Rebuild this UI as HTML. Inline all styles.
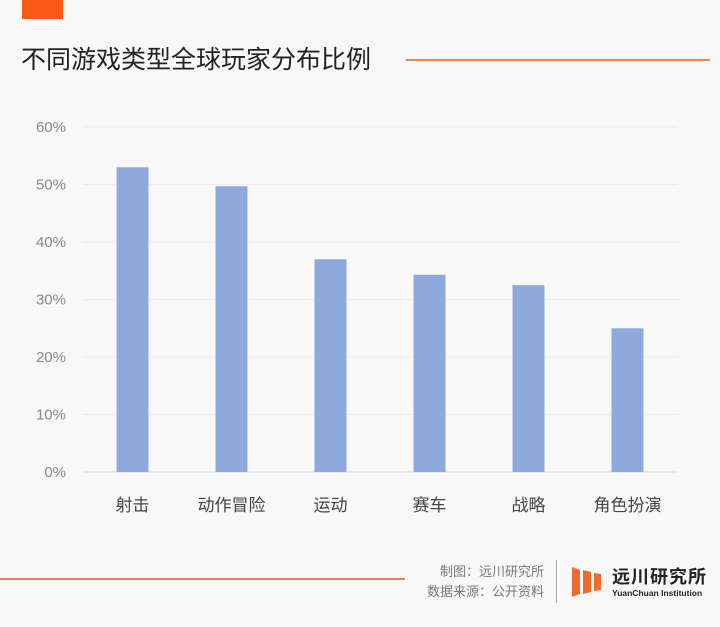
<!DOCTYPE html>
<html><head><meta charset="utf-8"><style>
body{margin:0;width:720px;height:627px;background:#f8f8f8;font-family:"Liberation Sans","Noto Sans CJK SC",sans-serif;overflow:hidden;position:relative}
.a{position:absolute}
</style></head><body>
<div class="a" style="left:22px;top:0;width:41px;height:19px;background:#fb5a14"></div>
<div class="a" style="left:21px;top:44px;font-size:25px;color:#222;line-height:32px">不同游戏类型全球玩家分布比例</div>
<div class="a" style="left:406px;top:59px;width:304px;height:2px;background:#f08050"></div>
<svg class="a" style="left:0;top:0" width="720" height="627">
<g id="g"></g>
</svg>
<div class="a" style="left:0;top:578px;width:405px;height:2px;background:#f08050"></div>
<div class="a" style="left:420px;top:562px;width:124px;text-align:right;font-size:13px;color:#777;line-height:20px">制图：远川研究所<br>数据来源：公开资料</div>
<div class="a" style="left:556px;top:560px;width:1px;height:43px;background:#aaa"></div>
<svg class="a" style="left:570px;top:565px" width="36" height="34">
<polygon points="2,2 10,5 10,29 2,32" fill="#f06a30"/>
<polygon points="13,5 21,7 21,27 13,29" fill="#f06a30"/>
<polygon points="24,8 31,9 31,25 24,26" fill="#f06a30"/>
</svg>
<div class="a" style="left:612px;top:566px;font-size:18px;font-weight:bold;color:#222;letter-spacing:1px;line-height:22px">远川研究所</div>
<div class="a" style="left:612px;top:588px;font-size:8.5px;font-weight:bold;color:#222;line-height:10px">YuanChuan Institution</div>
<script>
const categories=["射击","动作冒险","运动","赛车","战略","角色扮演"];
const values=[53,49.7,37,34.3,32.5,25];
const ticks=[0,10,20,30,40,50,60];
const g=document.getElementById('g');
const NS="http://www.w3.org/2000/svg";
const y=v=>472-v*5.75;
const x=i=>83+99*i+49.5;
ticks.forEach(t=>{
 const l=document.createElementNS(NS,'line');
 l.setAttribute('x1',83);l.setAttribute('x2',678);l.setAttribute('y1',y(t));l.setAttribute('y2',y(t));
 l.setAttribute('stroke',t===0?'#d8d8d8':'#ececec');
 
 
 g.appendChild(l);
 const tx=document.createElementNS(NS,'text');
 tx.setAttribute('x',66);tx.setAttribute('y',y(t)+5);tx.setAttribute('text-anchor','end');
 tx.setAttribute('font-size','15');tx.setAttribute('fill','#888');tx.textContent=t+'%';
 
 
 g.appendChild(tx);
});
categories.forEach((c,i)=>{
 const r=document.createElementNS(NS,'rect');
 r.setAttribute('x',x(i)-16);r.setAttribute('width',32);r.setAttribute('y',y(values[i]));r.setAttribute('height',y(0)-y(values[i]));
 r.setAttribute('fill','#8eaadc');
 
 
 g.appendChild(r);
 const tx=document.createElementNS(NS,'text');
 tx.setAttribute('x',x(i));tx.setAttribute('y',511);tx.setAttribute('text-anchor','middle');
 tx.setAttribute('font-size','17');tx.setAttribute('fill','#444');tx.textContent=c;
 
 
 g.appendChild(tx);
});
</script>
</body></html>
